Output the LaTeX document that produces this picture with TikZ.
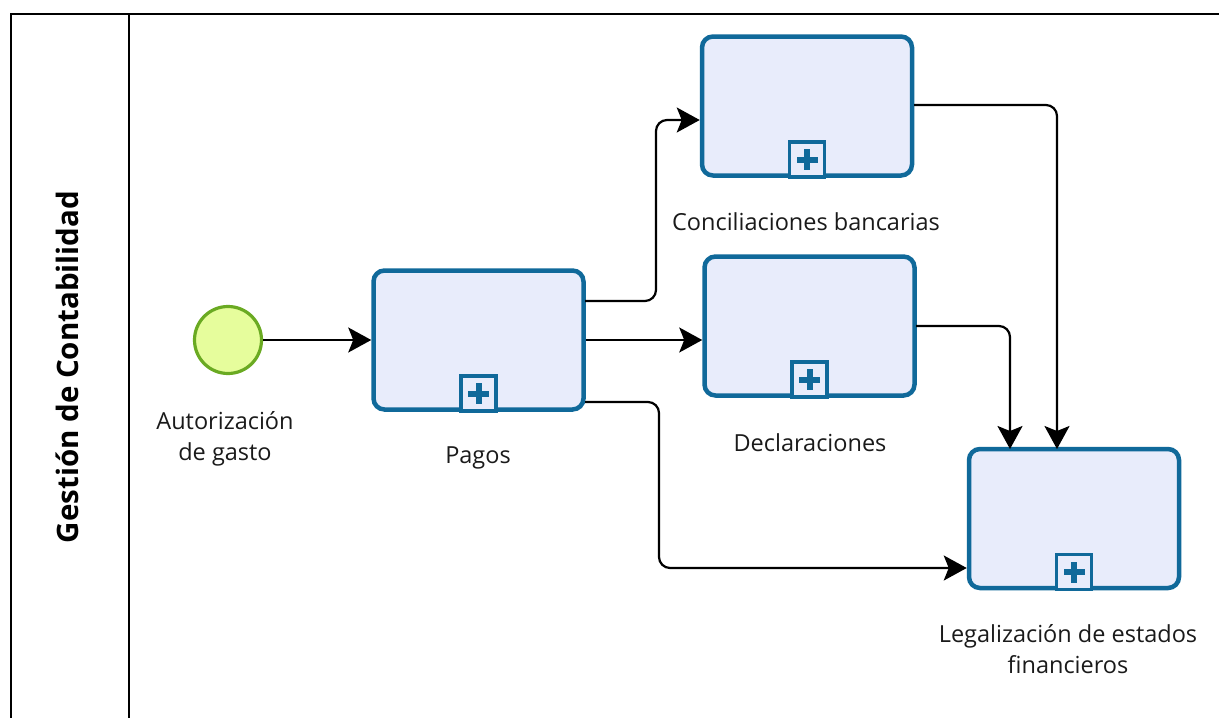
\documentclass[tikz,border=0pt]{standalone}
\usepackage{fontspec}
\setmainfont{Open Sans}
\usetikzlibrary{arrows.meta}
\definecolor{taskblue}{HTML}{10699A}
\definecolor{taskfill}{HTML}{E8ECFB}
\definecolor{evgreen}{HTML}{6AAA22}
\definecolor{evfill}{HTML}{E6FD9C}
\definecolor{txt}{HTML}{1A1A1A}
\tikzset{
  pool/.style={line width=2.4pt, draw=black},
  task/.style={draw=taskblue, fill=taskfill, line width=4.5pt, rounded corners=11pt, minimum width=210pt, minimum height=139pt, inner sep=0pt},
  startev/.style={circle, draw=evgreen, fill=evfill, line width=3.2pt, minimum size=67pt, inner sep=0pt},
  marker/.style={draw=taskblue, fill=taskfill, line width=3.5pt, minimum size=35pt, inner sep=0pt, anchor=south},
  lbl/.style={font=\fontsize{23.5}{31}\selectfont, text=txt, align=center},
  flow/.style={draw=black, line width=2.2pt, rounded corners=11pt, -{Stealth[length=23pt, width=25pt, inset=5pt]}}
}
\newcommand{\plusmark}[1]{%
  \fill[taskblue] ([xshift=-3pt,yshift=-10.5pt]#1.center) rectangle ([xshift=3pt,yshift=10.5pt]#1.center);
  \fill[taskblue] ([xshift=-10.5pt,yshift=-3pt]#1.center) rectangle ([xshift=10.5pt,yshift=3pt]#1.center);}
\begin{document}
\begin{tikzpicture}[x=1pt,y=-1pt]
\useasboundingbox (0,0) rectangle (1219,718);
% pool
\draw[pool] (11,730) -- (11,14) -- (1230,14);
\draw[pool] (129,14) -- (129,730);
\node[rotate=90, font=\fontsize{29.5}{34}\selectfont\bfseries, text=black] (poollbl) at (67,367) {Gestión de Contabilidad};
% start event
\node[startev] (start) at (228,340) {};
\node[lbl] (startlbl) at (225,439) {Autorización\\de gasto};
% tasks
\node[task] (pagos) at (478.5,340) {};
\node[lbl] (pagoslbl) at (478,458) {Pagos};
\node[task] (conc) at (807,106) {};
\node[lbl] (conclbl) at (806,222) {Conciliaciones bancarias};
\node[task] (decl) at (809.5,326) {};
\node[lbl] (decllbl) at (810,443) {Declaraciones};
\node[task] (legal) at (1074,518.5) {};
\node[lbl] (legallbl) at (1068,649) {Legalización de estados\\financieros};
% markers
\foreach \t in {pagos,conc,decl,legal}{
  \node[marker] (\t-m) at ([yshift=-1pt]\t.south) {};
  \plusmark{\t-m}
}
% flows
\coordinate (p1) at (585,301);
\coordinate (p2) at (585,402);
\coordinate (c1) at (914,105);
\coordinate (d1) at (916,326);
\draw[flow] (start.east) -- (pagos.west);
\draw[flow] (p1) -- (656,301) -- (656,120) -- (conc.west |- 0,120);
\draw[flow] (pagos.east) -- (pagos.east -| decl.west);
\draw[flow] (p2) -- (659,402) -- (659,568) -- (legal.west |- 0,568);
\draw[flow] (c1) -- (1057,105) -- (1057,449);
\draw[flow] (d1) -- (1010,326) -- (1010,449);
\end{tikzpicture}
\end{document}
